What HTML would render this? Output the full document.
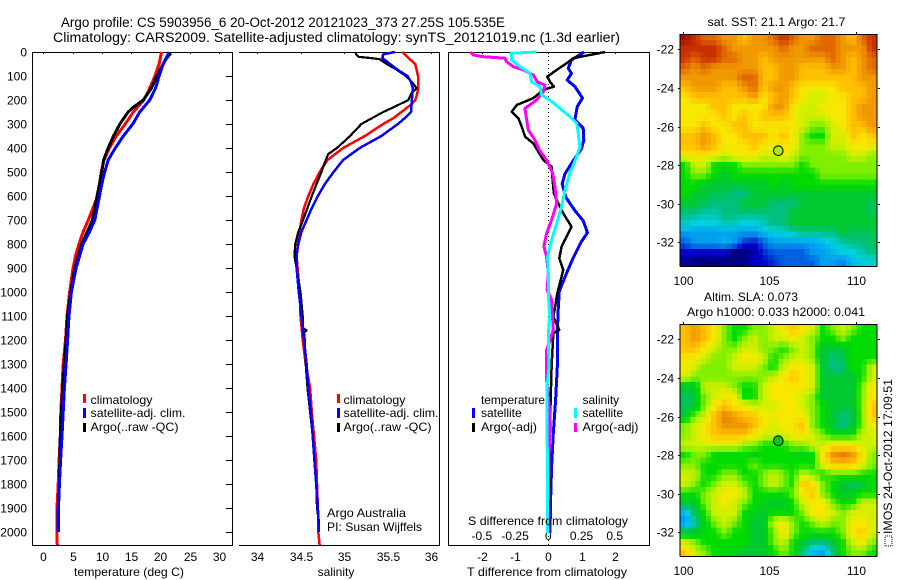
<!DOCTYPE html>
<html>
<head>
<meta charset="utf-8">
<title>Argo profile</title>
<style>
html,body{margin:0;padding:0;background:#fff;}
svg{display:block;}
text{font-family:"Liberation Sans",sans-serif;font-size:12px;fill:#000;}
</style>
</head>
<body>
<svg id="fig" width="900" height="580" viewBox="0 0 900 580" xmlns="http://www.w3.org/2000/svg">
<text x="61" y="27" style="font-size:13.5px" textLength="444" lengthAdjust="spacingAndGlyphs">Argo profile: CS 5903956_6 20-Oct-2012 20121023_373 27.25S 105.535E</text>
<text x="53" y="42" style="font-size:13.5px" textLength="567" lengthAdjust="spacingAndGlyphs">Climatology: CARS2009. Satellite-adjusted climatology: synTS_20121019.nc (1.3d earlier)</text>
<g id="marks"></g>

<text x="129" y="576" text-anchor="middle" textLength="110" lengthAdjust="spacingAndGlyphs">temperature (deg C)</text>
<text x="336" y="576" text-anchor="middle">salinity</text>
<text x="547" y="576" text-anchor="middle" textLength="160" lengthAdjust="spacingAndGlyphs">T difference from climatology</text>
<text x="548" y="525" text-anchor="middle" textLength="160" lengthAdjust="spacingAndGlyphs">S difference from climatology</text>

<g>
<rect x="83" y="394" width="3" height="9" fill="#f00"/>
<text x="90.5" y="404" textLength="62" lengthAdjust="spacingAndGlyphs">climatology</text>
<rect x="83" y="408" width="3" height="10" fill="#00f"/>
<text x="90.5" y="417" textLength="95" lengthAdjust="spacingAndGlyphs">satellite-adj. clim.</text>
<rect x="83" y="423" width="3" height="9" fill="#000"/>
<text x="90.5" y="431" textLength="88" lengthAdjust="spacingAndGlyphs">Argo(..raw -QC)</text>
</g>
<g>
<rect x="337" y="394" width="3" height="9" fill="#f00"/>
<text x="343.5" y="404" textLength="62" lengthAdjust="spacingAndGlyphs">climatology</text>
<rect x="337" y="408" width="3" height="10" fill="#00f"/>
<text x="343.5" y="417" textLength="95" lengthAdjust="spacingAndGlyphs">satellite-adj. clim.</text>
<rect x="337" y="423" width="3" height="9" fill="#000"/>
<text x="343.5" y="431" textLength="88" lengthAdjust="spacingAndGlyphs">Argo(..raw -QC)</text>
</g>
<text x="327" y="517" textLength="79" lengthAdjust="spacingAndGlyphs">Argo Australia</text>
<text x="327" y="531" textLength="95" lengthAdjust="spacingAndGlyphs">PI: Susan Wijffels</text>
<g>
<text x="481" y="404" textLength="64" lengthAdjust="spacingAndGlyphs">temperature</text>
<rect x="472" y="408" width="3" height="10" fill="#00f"/>
<text x="481" y="417">satellite</text>
<rect x="472" y="423" width="3" height="9" fill="#000"/>
<text x="481" y="431" textLength="56" lengthAdjust="spacingAndGlyphs">Argo(-adj)</text>
<text x="582.5" y="404">salinity</text>
<rect x="574" y="408" width="3" height="10" fill="#0ff"/>
<text x="582.5" y="417">satellite</text>
<rect x="574" y="423" width="3" height="9" fill="#f0f"/>
<text x="582.5" y="431" textLength="56" lengthAdjust="spacingAndGlyphs">Argo(-adj)</text>
</g>
<text x="707.5" y="26" textLength="138" lengthAdjust="spacingAndGlyphs">sat. SST: 21.1 Argo: 21.7</text>
<text x="704" y="301" textLength="94" lengthAdjust="spacingAndGlyphs">Altim. SLA: 0.073</text>
<text x="687" y="316" textLength="178" lengthAdjust="spacingAndGlyphs">Argo h1000: 0.033 h2000: 0.041</text>
<rect x="885" y="536" width="7" height="10" fill="none" stroke="#000" stroke-width="1" stroke-dasharray="1 1" shape-rendering="crispEdges"/>
<text transform="translate(892,534) rotate(-90)" x="0" y="0" textLength="155" lengthAdjust="spacingAndGlyphs">IMOS 24-Oct-2012 17:09:51</text>
</svg>
<script>
/* ---------- depth axis ---------- */
const depthTicks = [0,100,200,300,400,500,600,700,800,900,1000,1100,1200,1300,1400,1500,1600,1700,1800,1900,2000];
const tempTicks = [0,5,10,15,20,25,30];
const salTicks = [34,34.5,35,35.5,36];
const diffTTicks = [-2,-1,0,1,2];
const diffSTicks = [-0.5,-0.25,0,0.25,0.5];
const latTicks = [-22,-24,-26,-28,-30,-32];
const lonTicks = [100,105,110];

/* ---------- temperature profiles ---------- */
const tClimDepth = [0,50,100,150,200,250,300,350,400,450,500,600,650,700,750,800,850,900,1000,1100,1200,1300,1400,1500,1600,1700,1800,1900,2000,2054];
const tClimVal = [20.2,19.8,19.1,18.2,17.2,15.4,14.0,12.5,11.3,10.4,9.9,9.3,8.5,7.7,6.8,6.1,5.5,5.1,4.5,4.05,3.8,3.4,3.2,3.0,2.9,2.7,2.55,2.35,2.3,2.4];
const tSatDepth = [0,50,100,150,200,250,300,350,400,450,500,550,600,700,750,800,850,900,1000,1100,1200,1300,1400,1500,1600,1700,1800,1900,2000];
const tSatVal = [21.5,20.5,19.8,19.2,18.2,16.5,15.3,13.7,12.3,11.1,10.5,10,9.6,8.8,7.9,6.8,6.2,5.6,4.8,4.4,4.15,3.9,3.6,3.4,3.2,2.95,2.75,2.55,2.55];
const tArgoDepth = [5,25,50,100,150,200,230,250,300,350,400,450,500,600,700,750,800,900,1000,1100,1200,1400,1600,1800,1900,2000];
const tArgoVal = [21.8,21.1,20.5,19.4,18.5,17.1,15.4,14.5,13.1,12,11.1,10.3,10,9.2,8.4,7.5,6.55,5.4,4.7,4.15,3.9,3.3,2.9,2.75,2.6,2.6];

/* ---------- salinity profiles ---------- */
const sClimDepth = [0,25,50,100,150,175,200,225,250,275,300,350,400,450,500,550,600,650,700,750,800,850,1000,1100,1200,1300,1400,1500,1600,1700,1800,1900,2000,2054];
const sClimVal = [35.67,35.74,35.82,35.85,35.855,35.84,35.82,35.75,35.66,35.57,35.45,35.24,34.99,34.81,34.72,34.65,34.59,34.54,34.51,34.49,34.47,34.455,34.49,34.5,34.525,34.56,34.61,34.63,34.655,34.68,34.69,34.7,34.705,34.72];
const sSatDepth = [0,10,25,50,75,100,125,150,200,250,275,300,350,400,450,500,550,600,650,700,750,800,850,900,1000,1100,1200,1300,1400,1500,1600,1700,1800,1900,2000];
const sSatVal = [35.586,35.45,35.44,35.53,35.62,35.73,35.77,35.79,35.78,35.77,35.7,35.62,35.43,35.18,34.99,34.88,34.78,34.7,34.63,34.57,34.51,34.475,34.455,34.455,34.48,34.51,34.54,34.57,34.59,34.62,34.64,34.66,34.68,34.7,34.71];
const sArgoDepth = [5,20,25,30,50,70,100,125,150,175,200,225,250,300,350,400,425,450,500,600,700,750,800,850,900,1000,1100,1150,1160,1170,1200,1300,1400,1600,1800,1900,1950,2000];
const sArgoVal = [35.13,35.165,35.3,35.41,35.49,35.59,35.71,35.78,35.835,35.77,35.74,35.6,35.45,35.2,35.07,34.92,34.82,34.79,34.74,34.63,34.53,34.475,34.44,34.43,34.455,34.5,34.525,34.525,34.57,34.54,34.55,34.56,34.58,34.64,34.68,34.69,34.71,34.71];

/* ---------- difference profiles ---------- */
const dTSatDepth = [0,33,68,89,117,144,192,228,283,317,367,403,453,508,550,606,661,703,753,789,858,928,997,1067,1172,1311,1450,1589,1728,1867,2005];
const dTSatVal = [1.08,0.7,0.6,0.7,0.57,0.8,1.03,0.87,0.8,1.05,1.07,1.0,0.75,0.5,0.42,0.53,0.8,1.05,1.18,1.0,0.75,0.53,0.33,0.3,0.27,0.27,0.22,0.15,0.1,0.07,0.05];
const dTArgoDepth = [0,12,26,47,75,103,124,144,158,192,221,249,276,311,353,381,415,450,478,533,589,631,672,728,769,811,860,908,936,1006,1067,1102,1158,1172,1311,1450,1589,1728,1900];
const dTArgoVal = [1.71,1.26,0.75,0.55,0.25,-0.03,0.05,0.17,-0.15,-0.45,-0.95,-1.1,-0.9,-0.8,-0.7,-0.45,-0.3,-0.15,0.1,0.13,0.17,0.3,0.45,0.7,0.55,0.4,0.33,0.45,0.4,0.27,0.2,0.15,0.33,0.15,0.1,0.07,0.05,0.05,0.02];
const dSSatDepth = [0,5,33,61,89,124,144,179,206,235,263,297,339,394,436,506,575,644,714,783,853,922,1019,1100,1172,1311,1380,1589,2005];
const dSSatVal = [-0.088,-0.276,-0.276,-0.214,-0.138,-0.126,-0.063,-0.05,0.025,0.088,0.15,0.214,0.226,0.239,0.214,0.163,0.126,0.1,0.063,0.025,-0.005,0,0,0.012,0,0.005,-0.008,-0.008,-0.005];
const dSArgoDepth = [0,12,19,26,40,61,75,96,124,138,165,200,235,283,325,367,408,450,506,561,631,700,756,811,853,922,992,1033,1158,1242,1367,1506,1728,1867];
const dSArgoVal = [-0.585,-0.565,-0.5,-0.327,-0.314,-0.264,-0.188,-0.113,-0.083,-0.025,-0.038,-0.088,-0.176,-0.163,-0.15,-0.1,-0.068,-0.013,0.033,0.05,0.063,0.025,-0.013,-0.033,-0.013,0,-0.008,0.025,0.038,-0.013,-0.013,0.012,0.005,0];

/* ---------- map grids (colour-scale level, 0 = navy ... 15 = deep red) ---------- */
const sstLevels = [
[15,14,13,13,12,12,11,12,12,13,14,13,12,12,13,13,12,11,13,14],
[14,14,14,14,13,12,12,12,12,12,13,12,12,13,13,13,12,12,12,14],
[14,13,14,14,13,13,12,12,11,12,12,12,12,12,12,13,12,11,12,13],
[13,12,13,12,12,12,12,12,11,11,12,12,11,11,11,12,12,11,12,13],
[12,12,12,12,12,12,13,13,11,11,12,12,11,11,11,11,11,11,12,12],
[11,12,12,12,11,11,12,13,11,12,12,11,10,10,10,10,11,11,11,12],
[10,11,11,11,11,11,11,12,10,11,12,11,10,9,9,10,10,11,11,12],
[10,10,10,11,11,10,10,10,10,12,12,10,9,9,10,10,10,11,12,12],
[10,10,10,10,11,10,11,10,11,11,11,10,9,9,9,10,10,11,12,12],
[10,10,11,10,10,11,11,10,10,10,10,10,9,8,8,9,10,11,11,12],
[11,11,12,11,10,10,11,11,11,10,11,10,8,7,7,9,9,11,10,11],
[11,11,12,11,10,10,10,11,10,10,10,10,8,8,8,9,9,10,10,10],
[10,10,10,10,9,10,10,10,9,9,10,9,8,8,8,8,8,9,9,8],
[7,9,9,7,7,7,8,8,8,8,8,8,7,8,8,8,8,8,8,8],
[7,8,8,7,6,7,7,7,7,7,7,7,7,7,8,8,8,8,8,8],
[7,7,6,6,6,6,6,6,6,7,6,7,7,7,7,7,7,7,7,7],
[7,6,6,5.5,5.5,5,5,6,6,6,6,6,6,6,6,6,6,6,6,6],
[6,6,5.5,5,5,5,6,6,6,5,5,5,6,6,6,6,6,6,6,5.5],
[5,5,4.5,4.5,5,5,5,5,5,5,5,6,6,6,6,6,6,6,6,5.5],
[4.5,4,4,4,4.5,4.5,4,4,4.5,5,5,6,6,6,6,6,6,6,6,6],
[3,3,3,3,3,3,3,3,3.5,4,4,4.5,5,5,5,5,6,5.5,5.5,5.5],
[2,3,3,3,3.5,3,1.5,1,2,3,3,3,3,3,3.5,4,4.5,5,5,5.5],
[1,1,1,1,1,0,0,0.5,1.5,2,2,2,2,3,3,3.5,4,4,4.5,5],
[0.5,0,0,0,0,0,0,1,1,1.5,2,2,2,2,3,3,2.5,3.5,4,4]
];
const slaLevels = [
[11,12,11,10,8,7,7,8,8,9,10,11,10,9,7,8,9,8,7,7],
[11,12,11,10,8,7,8,9,8,9,9,10,9,8,7,7,8,7,7,7],
[11,11,10,9,8,8,9,9,8,8,7,8,9,8,6,6,6,7,7,7],
[10,10,9,8,8,9,10,10,9,7,8,9,9,8,6,5,5.5,7,7,7],
[10,9,8,8,8,9,9,9,8,7,9,10,10,9,6,5,5,7,7,9],
[9,8,8,8,8,8,8,8,8,9,10,11,10,9,6,6,6,6,7,9],
[6,6,9,9,9,8,7,7,9,10,10,10,10,9,6,6,6,6,8,10],
[5.5,6,8,9,10,10,7,7,9,10,10,10,9,8,6,6,6,6,8,10],
[5.5,6,8,10,11,10,10,9,9,9,10,10,9,8,7,6,6,6,8,11],
[6,8,9,11,12.5,12,11,11,10,10,10,10,10,8,7,6,5,5.5,8,11],
[8,9,10,11,12,12,12,11,10,9,10,10,11,8,7,6,5,6,8,10],
[8,9,10,11,11,11,11,10,9,9,9,10,10,9,8,7,7,7,9,9],
[9,9,9,9,9,9,8,8,7,7,7,8,8,9,9,10,10,10,9,9],
[7,8,8,7,7,7,7,6.5,7,7,7,7,6.5,7,10,12,12.5,12,10,8],
[8,8,7,7,7,7,7,8,7,7,7,7,7,7,9.5,11,11,11,9.5,8],
[9,9,7,7,8,8,7,7,8,9,8,7,9,8,7,7.5,7.5,7.5,7,7],
[9,8,7,8,9,9,8,7,8,9,8,7,11,10,8,7,6,5.5,6,7],
[7,7,8,9,10,10,9,7,7,7,7,8,10,11,8,7,6,6.5,7,7],
[6,6,8,9,10,9,8,7,6.5,6,6,7,9,10,10,8,7,7,9,9],
[3.5,5.5,7,9,9,9,7,6.5,6,7,7,7,8,10,10,9,8,9,9.5,9],
[2.5,4.5,6.5,8,9,8,7,6,6,9,10,8,7,8,9,8,8,10,10,9],
[6,6,7,7,8,7,7,6,6,8,10,8,7,7,7,7,8,10,11,9],
[9,8,7,7,7,7,7,6,6,8,9,7,6,5,5,6,7,9,10,8],
[11,9,8,7,7,6.5,6,6,6,7,8,7,5,3.5,3,5,7,8,8,7]
];
const colorStops = ["#000080","#0000c8","#0060e0","#00a0f0","#00d0e0","#00c080","#00c830","#00dc00","#80f000","#d0f000","#f8e800","#ffc000","#f09800","#e06800","#c83000","#a01000"];

const SVGNS = "http://www.w3.org/2000/svg";
const marks = document.getElementById("marks");

const depthY = d => 52 + 0.24 * d;
const tempX = v => 43.3 + 5.85 * v;
const salX = v => 257 + 87 * (v - 34);
const diffTX = v => 548.3 + 33.2 * v;
const diffSX = v => 548.3 + 132.8 * v;
const mapW = 197, mapH = 232.5;
const renderCols = 38, renderRows = 40;
const lonX = v => 682.7 + 17.3 * (v - 100);
const latY = (top, v) => top + 15.3 + 19.3 * (-22 - v);

function hexMix(a, b, t) {
  const p = h => [1, 3, 5].map(i => parseInt(h.substr(i, 2), 16));
  const A = p(a), B = p(b);
  return "rgb(" + A.map((c, i) => Math.round(c + (B[i] - c) * t)).join(",") + ")";
}
function levelColor(v) {
  const i = Math.max(0, Math.min(colorStops.length - 2, Math.floor(v)));
  return hexMix(colorStops[i], colorStops[i + 1], Math.min(1, v - i));
}
function sampleGrid(grid, fx, fy) {
  const rows = grid.length, cols = grid[0].length;
  const gx = Math.max(0, Math.min(cols - 1.001, fx * cols - 0.5));
  const gy = Math.max(0, Math.min(rows - 1.001, fy * rows - 0.5));
  const ix = Math.floor(gx), iy = Math.floor(gy);
  const tx = gx - ix, ty = gy - iy;
  const top = grid[iy][ix] * (1 - tx) + grid[iy][ix + 1] * tx;
  const bot = grid[iy + 1][ix] * (1 - tx) + grid[iy + 1][ix + 1] * tx;
  return top * (1 - ty) + bot * ty;
}
function seg(x1, y1, x2, y2, parent) {
  const l = document.createElementNS(SVGNS, "line");
  l.setAttribute("x1", x1);
  l.setAttribute("y1", y1);
  l.setAttribute("x2", x2);
  l.setAttribute("y2", y2);
  l.setAttribute("stroke", "#000");
  l.setAttribute("stroke-width", "1");
  l.setAttribute("shape-rendering", "crispEdges");
  
  
  (parent || marks).appendChild(l);
  return l;
}
function tickLabel(x, y, str, anchor) {
  const t = document.createElementNS(SVGNS, "text");
  t.setAttribute("x", x);
  t.setAttribute("y", y);
  t.setAttribute("text-anchor", anchor);
  t.textContent = str;
  
  
  marks.appendChild(t);
}
function profile(depths, vals, xf, color, width, name) {
  const p = document.createElementNS(SVGNS, "polyline");
  p.setAttribute("points", depths.map((d, i) => xf(vals[i]).toFixed(1) + "," + depthY(d).toFixed(1)).join(" "));
  p.setAttribute("fill", "none");
  p.setAttribute("stroke", color);
  p.setAttribute("stroke-width", width);
  p.setAttribute("stroke-linejoin", "round");
  p.setAttribute("shape-rendering", "crispEdges");
  
  
  marks.appendChild(p);
}
function panelFrame(left, right, hasLeft) {
  seg(left, 52.5, right, 52.5);
  seg(left, 545.5, right, 545.5);
  seg(right + 0.5, 52, right + 0.5, 546);
  if (hasLeft) seg(left + 0.5, 52, left + 0.5, 546);
}
function drawMap(top, grid, name) {
  const cw = mapW / renderCols, ch = mapH / renderRows;
  for (let r = 0; r < renderRows; r++) {
    for (let c = 0; c < renderCols; c++) {
      const v = sampleGrid(grid, (c + 0.5) / renderCols, (r + 0.5) / renderRows);
      const rc = document.createElementNS(SVGNS, "rect");
      rc.setAttribute("x", (680 + c * cw).toFixed(2));
      rc.setAttribute("y", (top + r * ch).toFixed(2));
      rc.setAttribute("width", (cw + 0.4).toFixed(2));
      rc.setAttribute("height", (ch + 0.4).toFixed(2));
      rc.setAttribute("fill", levelColor(v));
      rc.setAttribute("shape-rendering", "crispEdges");
      
      
      marks.appendChild(rc);
    }
  }
  seg(680, top + 0.5, 877, top + 0.5);
  seg(680, top + mapH, 877, top + mapH);
  seg(680, top, 680, top + mapH);
  seg(877, top, 877, top + mapH);
  latTicks.forEach(v => {
    const y = Math.round(latY(top, v)) + 0.5;
    seg(878, y, 880, y);
    seg(678, y, 680, y);
    tickLabel(674, y + 4, String(v), "end");
  });
  lonTicks.forEach(v => {
    const x = Math.round(lonX(v)) + 0.5;
    seg(x, top - 2, x, top);
    tickLabel(x, top + mapH + 18.5, String(v), "middle");
  });
}
function drawMarker(top, fill) {
  const c = document.createElementNS(SVGNS, "circle");
  c.setAttribute("cx", 778.3);
  c.setAttribute("cy", top + 116.7);
  c.setAttribute("r", 4.8);
  c.setAttribute("fill", fill);
  c.setAttribute("stroke", "#000");
  c.setAttribute("stroke-width", "1");
  
  
  marks.appendChild(c);
}

/* panels */
panelFrame(32, 232, true);
panelFrame(239, 439, false);
panelFrame(448, 649, true);

depthTicks.forEach(d => {
  const y = Math.round(depthY(d)) + 0.5;
  seg(226, y, 232, y);
  tickLabel(27, y + 4, String(d), "end");
});
tempTicks.forEach(v => {
  const x = Math.round(tempX(v)) + 0.5;
  seg(x, 52, x, 54);
  tickLabel(x, 561, String(v), "middle");
});
salTicks.forEach(v => {
  const x = Math.round(salX(v)) + 0.5;
  seg(x, 52, x, 54);
  tickLabel(x, 561, String(v), "middle");
});
diffTTicks.forEach(v => {
  const x = Math.round(diffTX(v)) + 0.5;
  seg(x, 52, x, 54);
  tickLabel(x, 561, String(v), "middle");
});
diffSTicks.forEach(v => {
  tickLabel(diffSX(v), 540, String(v), "middle");
});

/* zero line */
const zero = document.createElementNS(SVGNS, "line");
zero.setAttribute("x1", diffTX(0));
zero.setAttribute("y1", 52);
zero.setAttribute("x2", diffTX(0));
zero.setAttribute("y2", 545);
zero.setAttribute("stroke", "#000");
zero.setAttribute("stroke-width", "1");
zero.setAttribute("stroke-dasharray", "1 3");
zero.setAttribute("shape-rendering", "crispEdges");


marks.appendChild(zero);

/* series */
profile(tClimDepth, tClimVal, tempX, "#f00", 3, "temperature-climatology-line");
profile(tArgoDepth, tArgoVal, tempX, "#000", 3, "temperature-argo-line");
profile(tSatDepth, tSatVal, tempX, "#00f", 3, "temperature-satellite-line");
profile(sClimDepth, sClimVal, salX, "#f00", 2.5, "salinity-climatology-line");
profile(sArgoDepth, sArgoVal, salX, "#000", 2.2, "salinity-argo-line");
profile(sSatDepth, sSatVal, salX, "#00f", 2.5, "salinity-satellite-line");
profile(dTSatDepth, dTSatVal, diffTX, "#00f", 3, "t-difference-satellite-line");
profile(dTArgoDepth, dTArgoVal, diffTX, "#000", 2.5, "t-difference-argo-line");
profile(dSArgoDepth, dSArgoVal, diffSX, "#f0f", 3, "s-difference-argo-line");
profile(dSSatDepth, dSSatVal, diffSX, "#0ff", 3, "s-difference-satellite-line");

/* maps */
drawMap(34, sstLevels, "sst-map-cell");
drawMap(324, slaLevels, "sla-map-cell");
drawMarker(34, "#a8ec00");
drawMarker(324, "#00c820");
</script>
</body>
</html>
